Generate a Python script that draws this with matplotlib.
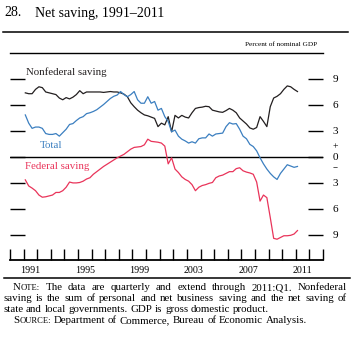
import matplotlib
matplotlib.use("Agg")
import matplotlib.pyplot as plt
from matplotlib.lines import Line2D
from matplotlib.transforms import blended_transform_factory
import numpy as np

plt.rcParams['font.family'] = ['Liberation Serif', 'DejaVu Serif']

W, H = 351, 342

# quarterly, percent of nominal GDP, 1991:Q1 - 2011:Q1
nonfederal = [7.4, 7.3, 7.3, 7.8,
              8.1, 8.0, 7.5, 7.4,
              7.3, 7.2, 6.8, 6.6,
              6.85, 6.7, 6.9, 7.2,
              7.65, 7.3, 7.5, 7.5,
              7.5, 7.5, 7.5, 7.45,
              7.5, 7.55, 7.5, 7.5,
              7.4, 7.25, 6.95, 6.25,
              5.8, 5.4, 5.1, 4.85,
              4.75, 4.6, 4.45, 3.5,
              3.9, 3.7, 4.65, 2.9,
              4.8, 4.5, 4.8, 4.6,
              4.5, 5.1, 5.6, 5.7,
              5.75, 5.85, 5.8, 5.4,
              5.3, 5.2, 5.15, 5.35,
              5.6, 5.4, 5.1, 4.5,
              4.15, 3.8, 3.35, 3.2,
              3.4, 4.65, 4.1, 3.5,
              5.8, 6.8, 7.0, 7.3,
              7.8, 8.2, 8.1, 7.8,
              7.55]
total = [4.85, 3.9, 3.3, 3.45,
         3.45, 3.3, 2.7, 2.6,
         2.6, 2.7, 2.4, 2.8,
         3.2, 3.75, 3.85, 4.2,
         4.5, 4.65, 5.0, 5.1,
         5.25, 5.45, 5.75, 6.05,
         6.4, 6.75, 7.0, 7.15,
         7.55, 7.2, 6.95, 7.2,
         7.55, 6.6, 6.2, 6.2,
         6.95, 6.2, 6.4, 5.4,
         5.6, 4.65, 4.1, 2.9,
         3.1, 2.4, 2.05, 1.85,
         1.6, 1.75, 1.6, 2.1,
         2.2, 2.2, 2.65, 2.4,
         2.65, 2.7, 2.75, 3.5,
         3.95, 3.8, 3.85, 3.2,
         2.4, 2.1, 1.45, 1.2,
         0.7, -0.1, -0.8, -1.4,
         -1.9, -2.3, -2.6, -1.9,
         -1.4, -0.9, -1.05, -1.2,
         -1.1]
federal = [-2.65, -3.35, -3.6, -3.9,
           -4.4, -4.65, -4.6, -4.5,
           -4.4, -4.1, -4.1, -3.9,
           -3.5, -2.9, -3.0, -3.0,
           -2.95, -2.8, -2.55, -2.4,
           -2.0, -1.7, -1.4, -1.1,
           -0.85, -0.6, -0.35, -0.1,
           0.1, 0.3, 0.6, 0.9,
           1.1, 1.15, 1.2, 1.4,
           2.05, 1.8, 1.75, 1.7,
           1.6, 1.25, -0.8, -0.1,
           -1.4, -1.8, -2.3, -2.6,
           -2.8, -3.2, -3.9, -3.5,
           -3.3, -3.2, -3.05, -2.95,
           -2.4, -2.2, -2.1, -1.9,
           -1.7, -1.7, -1.35, -1.25,
           -1.6, -1.75, -1.85, -2.0,
           -2.9, -5.1, -4.4, -4.7,
           -7.0, -9.4, -9.5, -9.3,
           -9.1, -9.1, -9.05, -8.9,
           -8.5]

first_year = 1991
year_labels = [1991, 1995, 1999, 2003, 2007, 2011]
y_ticks = [-9, -6, -3, 0, 3, 6, 9]
y_ticklabels = ['9', '6', '3', '0', '3', '6', '9']

dates = first_year + (np.arange(len(nonfederal)) + 0.5) / 4.0

BLACK = '#231f20'
BLUE = '#3b7fc0'
RED = '#e9345a'


def fx(px):
    return px / W


def fy(py):
    return 1 - py / H


fig = plt.figure(figsize=(W / 100, H / 100), dpi=100)
ax = fig.add_axes([fx(10), fy(260), fx(323) - fx(10), fy(53) - fy(260)])

ax.axhline(0, color='black', lw=1.0, zorder=1)
ax.plot(dates, nonfederal, color=BLACK, lw=0.9, zorder=3)
ax.plot(dates, total, color=BLUE, lw=0.9, zorder=3)
ax.plot(dates, federal, color=RED, lw=0.9, zorder=3)

ax.set_xlim(1990, 2013)
ax.set_ylim(-11.9, 12.0)

for s in ['left', 'right']:
    ax.spines[s].set_visible(False)
ax.spines['top'].set_linewidth(1.0)
ax.spines['bottom'].set_linewidth(1.3)

ax.set_xticks(range(1990, 2014))
ax.set_xticklabels([])
ax.set_xticks([y + 0.5 for y in year_labels], minor=True)
ax.set_xticklabels([str(y) for y in year_labels], minor=True)
ax.tick_params(axis='x', which='major', direction='in', length=8, width=1.0,
               top=False, labelbottom=False)
ax.tick_params(axis='x', which='minor', length=0, pad=4, labelsize=7.2)

ax.set_yticks(y_ticks)
ax.set_yticklabels(y_ticklabels)
ax.tick_params(axis='y', direction='in', length=10.5, width=1.0, left=True,
               right=True, labelleft=False, labelright=True, pad=7, labelsize=8)

trans = blended_transform_factory(ax.transAxes, ax.transData)
ax.text(1.0385, 1.2, '+', transform=trans, ha='center', va='center', fontsize=7)
ax.text(1.0385, -1.15, '\u2212', transform=trans, ha='center', va='center', fontsize=6.5)

# series labels
fig.text(fx(26), fy(72.5), 'Nonfederal saving', color=BLACK, fontsize=7.8, va='center')
fig.text(fx(40), fy(145), 'Total', color=BLUE, fontsize=7.8, va='center')
fig.text(fx(25), fy(166.5), 'Federal saving', color=RED, fontsize=7.8, va='center')

# title block
fig.text(fx(4), fy(13), '28.', fontsize=10, va='center')
fig.text(fx(35), fy(13), 'Net saving, 1991\u20132011', fontsize=10, va='center')
fig.add_artist(Line2D([fx(3), fx(348)], [fy(31.5), fy(31.5)], color='black', lw=1.1))
fig.text(fx(317), fy(44), 'Percent of nominal GDP', fontsize=5.2, ha='right', va='center')
fig.add_artist(Line2D([fx(4), fx(350)], [fy(278), fy(278)], color='black', lw=1.1))

# footnote, justified like the printed original
renderer = fig.canvas.get_renderer()
FS = 7.8
SMALLCAPS = {'NOTE:', 'SOURCE:'}


def pieces_of(word):
    if word in SMALLCAPS:
        return [(word[0], FS), (word[1:], FS * 0.78)]
    return [(word, FS)]


def width_of(s, size):
    t = fig.text(0, 0, s, fontsize=size)
    w = t.get_window_extent(renderer).width
    t.remove()
    return w


def text_line(line, x0, y, x1=None):
    words = line.split(' ')
    widths = [sum(width_of(s, z) for s, z in pieces_of(w)) for w in words]
    if x1 is None:
        gap = width_of('a a', FS) - width_of('aa', FS)
    else:
        gap = (x1 - x0 - sum(widths)) / (len(words) - 1)
    x = x0
    for w, wd in zip(words, widths):
        xx = x
        for s, z in pieces_of(w):
            fig.text(fx(xx), fy(y), s, fontsize=z, va='baseline')
            xx += width_of(s, z)
        x += wd + gap


text_line('NOTE: The data are quarterly and extend through 2011:Q1. Nonfederal', 13, 290, 347)
text_line('saving is the sum of personal and net business saving and the net saving of', 3, 301, 347)
text_line('state and local governments. GDP is gross domestic product.', 3, 312)
text_line('SOURCE: Department of Commerce, Bureau of Economic Analysis.', 13, 323)

fig.savefig('out.png', dpi=100)
